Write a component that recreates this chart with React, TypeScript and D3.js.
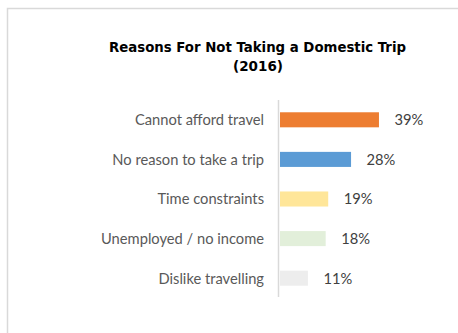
import React from "react";
import * as d3 from "d3";

const categories = [
  "Cannot afford travel",
  "No reason to take a trip",
  "Time constraints",
  "Unemployed / no income",
  "Dislike travelling",
];
const values = [39, 28, 19, 18, 11];
const colors = ["#ED7D31", "#5B9BD5", "#FFE699", "#E2EFDA", "#EDEDED"];
const titleLines = ["Reasons For Not Taking a Domestic Trip", "(2016)"];

const W = 458;
const H = 333;

export default function App() {
  const y = d3.scaleBand<string>().domain(categories).range([100, 298]).paddingInner(0.62).paddingOuter(0.31);
  const x = d3.scaleLinear().domain([0, 40]).range([280, 381.5]);
  const labelFont = "Lato, 'Open Sans', sans-serif";
  return (
    <svg
      width={W}
      height={H}
      style={{ position: "absolute", left: 0, top: 0, background: "#fff" }}
    >
      <rect x={7.5} y={8.5} width={W + 20} height={H + 20} fill="#fff" stroke="#D9D9D9" strokeWidth={1.5} />
      <text
        x={257.5}
        y={52}
        textAnchor="middle"
        fontFamily="'DejaVu Sans', Verdana, sans-serif"
        fontWeight="bold"
        fontSize={13.5}
        fill="#000"
        textLength={297}
        lengthAdjust="spacingAndGlyphs"
      >
        {titleLines[0]}
      </text>
      <text
        x={258}
        y={71}
        textAnchor="middle"
        fontFamily="'DejaVu Sans', Verdana, sans-serif"
        fontWeight="bold"
        fontSize={13.5}
        fill="#000"
      >
        {titleLines[1]}
      </text>
      {categories.map((c, i) => {
        const by = y(c)!;
        const bh = y.bandwidth();
        const cy = by + bh / 2;
        return (
          <g key={c}>
            <rect x={x(0)} y={by} width={x(values[i]) - x(0)} height={bh} fill={colors[i]} />
            <text
              x={264}
              y={cy + 5.3}
              textAnchor="end"
              fontFamily={labelFont}
              fontSize={14.7}
              fill="#595959"
            >
              {c}
            </text>
            <text
              x={x(values[i]) + 15.5}
              y={cy + 5.3}
              textAnchor="start"
              fontFamily={labelFont}
              fontSize={14.7}
              fill="#404040"
            >
              {values[i] + "%"}
            </text>
          </g>
        );
      })}
      <line x1={278.5} x2={278.5} y1={100} y2={297} stroke="#D9D9D9" strokeWidth={1.5} />
    </svg>
  );
}
